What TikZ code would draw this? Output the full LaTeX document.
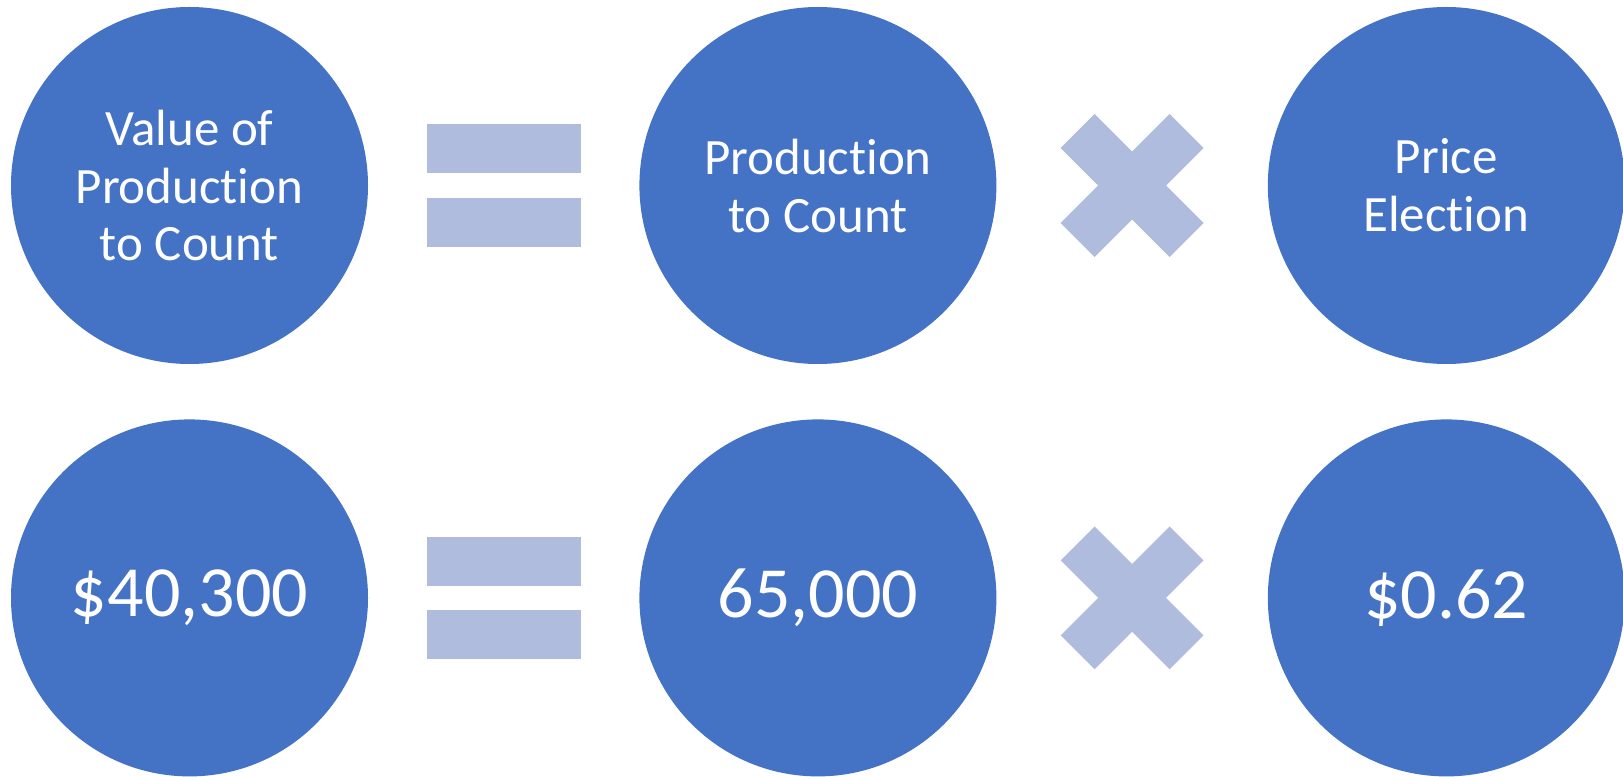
\documentclass[tikz,border=0pt]{standalone}
\usepackage{fontspec}
\setmainfont{Carlito}[Ligatures={NoCommon,NoContextual}]
\usepackage{tikz}
\usetikzlibrary{positioning, calc}
\definecolor{circleblue}{RGB}{68,114,196}
\definecolor{signblue}{RGB}{176,188,222}

\begin{document}
\begin{tikzpicture}[node distance=2.7cm,
  main node/.style={circle,fill=circleblue,text=white,minimum size=3.57cm,inner sep=0pt,align=center,font=\fontsize{14.5}{16.5}\selectfont},
  num node/.style={main node,font=\fontsize{20.5}{24}\selectfont},
  bar/.style={fill=signblue,minimum width=1.54cm,minimum height=0.49cm,inner sep=0pt},
  arm/.style={fill=signblue,minimum width=1.54cm,minimum height=0.48cm,inner sep=0pt}]

\useasboundingbox (0,0) rectangle (16.23,7.76);

\node[main node] (A) at (1.895,5.905) {Value of\\Production\\to Count};
\node[main node] (B) [right=of A] {Production\\to Count};
\node[main node] (C) [right=of B] {Price\\Election};
\node[num node] (D) [below=0.54cm of A] {\$40,300};
\node[num node] (E) [right=of D] {65,000};
\node[num node] (F) [right=of E] {\$0.62};

\node[bar] (AB1) [right=0.58cm of A, yshift=0.3675cm] {};
\node[bar] (AB2) [right=0.58cm of A, yshift=-0.3675cm] {};
\node[bar] (DE1) [right=0.58cm of D, yshift=0.3675cm] {};
\node[bar] (DE2) [right=0.58cm of D, yshift=-0.3675cm] {};

\node[arm, rotate=45] (BC1) at ($(B)!0.5!(C)$) {};
\node[arm, rotate=-45] (BC2) at ($(B)!0.5!(C)$) {};
\node[arm, rotate=45] (EF1) at ($(E)!0.5!(F)$) {};
\node[arm, rotate=-45] (EF2) at ($(E)!0.5!(F)$) {};

\end{tikzpicture}
\end{document}
